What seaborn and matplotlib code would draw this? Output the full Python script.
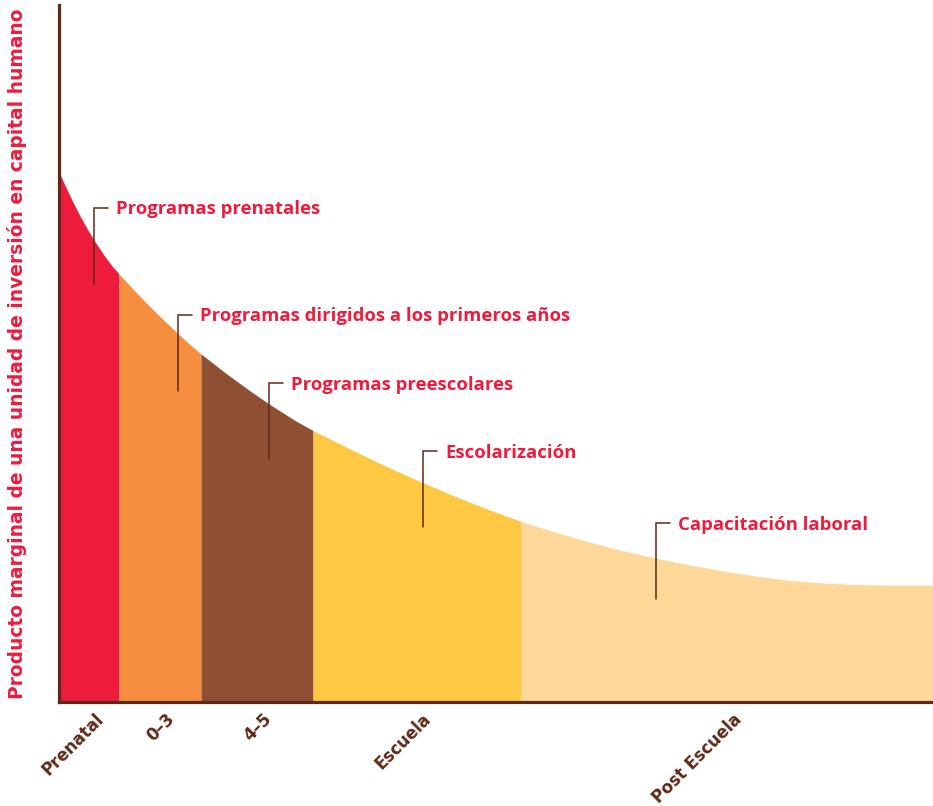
import pandas as pd
import seaborn as sns
import matplotlib.pyplot as plt

# life stages along the x axis and where each one starts/ends
stages = ["Prenatal", "0–3", "4–5", "Escuela", "Post Escuela"]
stage_edges = [0, 6.0, 14.2, 25.4, 46.2, 87.4]
stage_colors = ["#ee1b3d", "#f68e3f", "#8e4f33", "#fec842", "#fed899"]

# return curve
curve_x = [0, 0.7, 1.4, 2.1, 2.8, 3.6, 4.6, 5.3, 6.0, 7.3, 8.6, 9.9, 11.9,
           13.0, 14.2, 16.9, 19.2, 21.0, 23.6, 25.4, 28.6, 31.9, 35.3, 39.4,
           42.8, 46.2, 49.4, 52.8, 56.1, 59.6, 63.1, 66.4, 69.8, 73.1, 76.4,
           79.8, 83.1, 87.4]
curve_y = [53.0, 51.44, 49.98, 48.61, 47.34, 46.02, 44.54, 43.6, 42.8, 41.4,
           40.04, 38.74, 36.83, 35.83, 34.8, 32.71, 31.05, 29.81, 28.15, 27.15,
           25.55, 23.95, 22.4, 20.65, 19.3, 18.05, 17.05, 16.07, 15.2, 14.4,
           13.7, 13.1, 12.57, 12.17, 11.9, 11.74, 11.68, 11.68]

programs = ["Programas prenatales",
            "Programas dirigidos a los primeros años",
            "Programas preescolares",
            "Escolarización",
            "Capacitación laboral"]

# leader line anchors (x, top y) for each program label
leader_x = [3.5, 11.9, 21.0, 36.4, 59.7]
leader_top = [49.4, 38.7, 31.9, 25.1, 17.9]

BROWN = "#5e2a17"
RED = "#ee1b3d"

curve = pd.DataFrame({"x": curve_x, "y": curve_y})

sns.set_theme(style="white")
plt.rcParams["font.family"] = ["Open Sans", "DejaVu Sans"]

fig = plt.figure(figsize=(9.33, 8.06), dpi=100)
ax = fig.add_axes([59 / 933, 104 / 806, 874 / 933, 697 / 806])

for i, color in enumerate(stage_colors):
    lo, hi = stage_edges[i], stage_edges[i + 1]
    seg = curve[(curve.x >= lo) & (curve.x <= hi)]
    ax.fill_between(seg.x, 0, seg.y, color=color, linewidth=0)

for name, lx, ly in zip(programs, leader_x, leader_top):
    ax.plot([lx, lx, lx + 1.4], [ly - 7.6, ly, ly], color=BROWN, lw=1.1,
            solid_joinstyle="miter")
    ax.text(lx + 2.2, ly - 0.15, name, color=RED, fontsize=13.3,
            fontweight="bold", va="center", ha="left")

ax.set_xlim(stage_edges[0], stage_edges[-1])
ax.set_ylim(0, 69.7)

# labels sit a little to the right of each stage's middle
ticks = [(stage_edges[i] + stage_edges[i + 1]) / 2 + 1.8 for i in range(len(stages))]
ax.set_xticks(ticks)
ax.set_xticklabels(stages, rotation=45, ha="right", fontsize=12,
                   fontweight="bold", color=BROWN, family="DejaVu Sans")
ax.tick_params(axis="x", length=0, pad=6)
ax.set_yticks([])

ax.set_ylabel("Producto marginal de una unidad de inversión en capital humano",
              color=RED, fontsize=13.4, fontweight="bold", family="DejaVu Sans")
ax.yaxis.set_label_coords(-32 / 874, 0.5)

sns.despine(ax=ax)
for side in ["left", "bottom"]:
    ax.spines[side].set_color(BROWN)
    ax.spines[side].set_linewidth(2.3)

fig.savefig("out.png", dpi=100)
